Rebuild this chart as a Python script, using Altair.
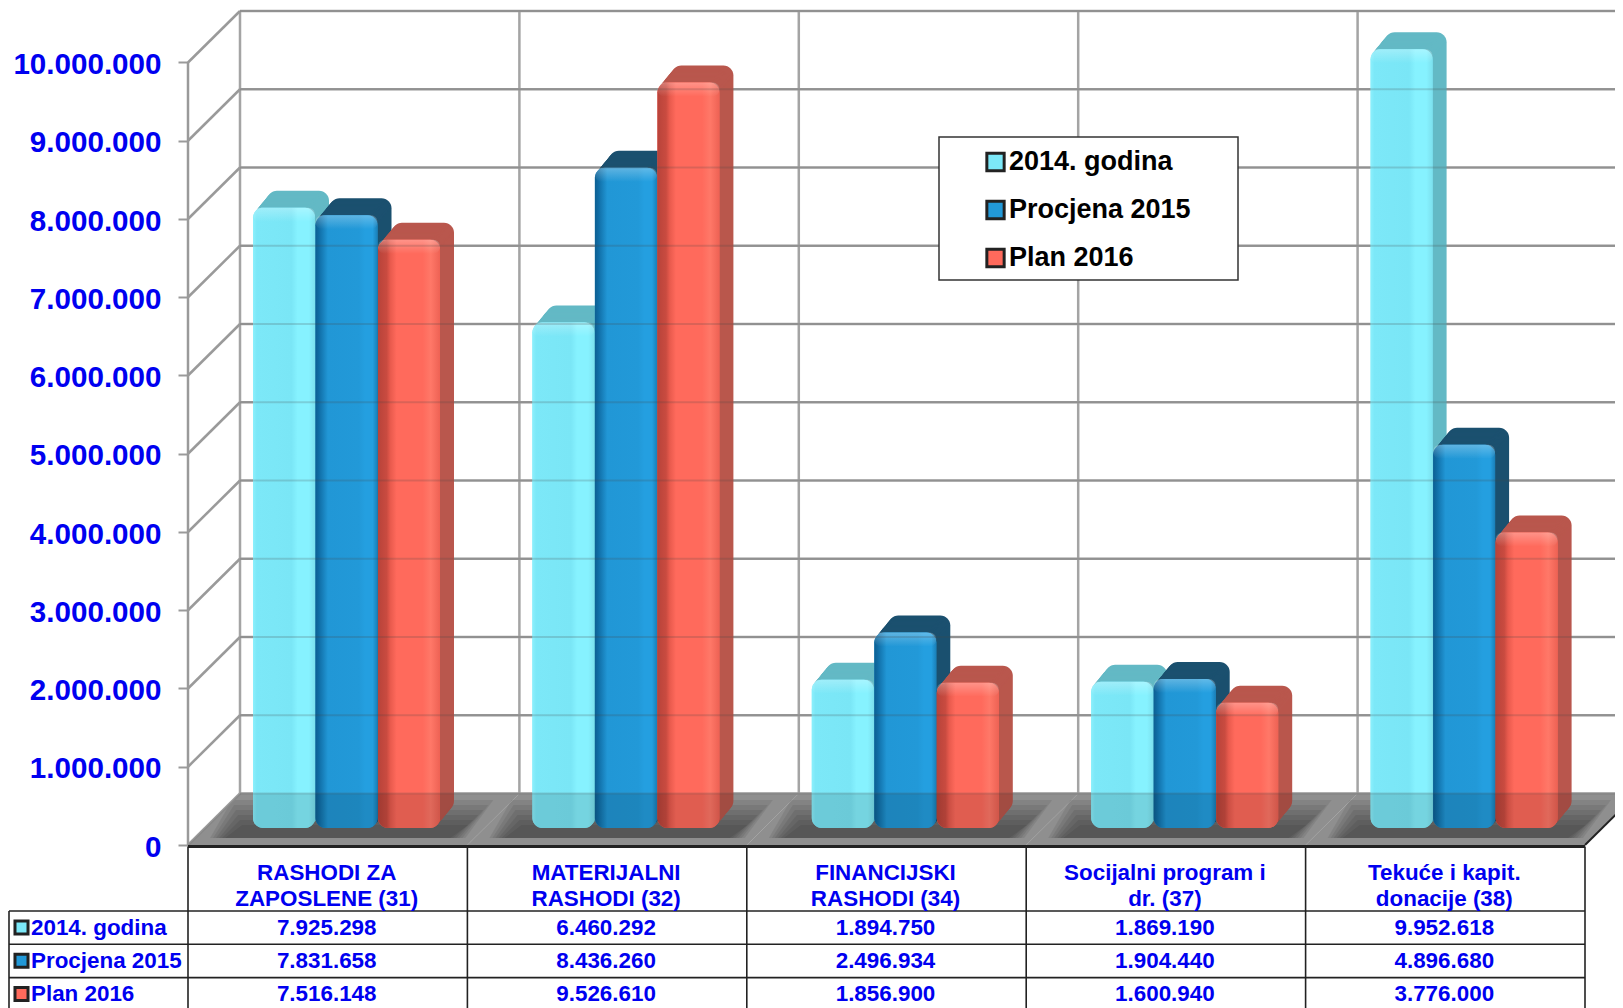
import altair as alt
import pandas as pd

CATEGORIES = ["RASHODI ZA\nZAPOSLENE (31)", "MATERIJALNI\nRASHODI (32)", "FINANCIJSKI\nRASHODI (34)",
              "Socijalni program i\ndr. (37)", "Tekuće i kapit.\ndonacije (38)"]
SERIES = ["2014. godina", "Procjena 2015", "Plan 2016"]
V2014 = [7925298, 6460292, 1894750, 1869190, 9952618]
V2015 = [7831658, 8436260, 2496934, 1904440, 4896680]
V2016 = [7516148, 9526610, 1856900, 1600940, 3776000]
VALUES = [V2014, V2015, V2016]
TICKS = [i * 1000000 for i in range(11)]

COLORS = ["#7ce8f8", "#2299d8", "#ff6a5c"]
SIDES = ["#63b9c5", "#1b506f", "#b9574d"]
STOPS = [
    [("#8cf0fc", 0), ("#7ce8f8", .06), ("#7ae6f6", .62), ("#86f2ff", .72), ("#86f2ff", .9), ("#7ce0ee", 1)],
    [("#0d5f92", 0), ("#0f6ba3", .05), ("#2197d6", .2), ("#2299d8", .7), ("#249fe0", .8), ("#249fe0", .92), ("#1a7fb8", 1)],
    [("#b8433a", 0), ("#c94b40", .14), ("#e85a4d", .2), ("#ff6a5c", .3), ("#ff6a5c", .72), ("#ff7868", .85), ("#ee6254", 1)],
]
BLUE = "#0000f0"
FONT = "Liberation Sans"

W, H = 1607, 1000
X0, COL = 188.0, 279.4
Y0, PER_M = 845.0, 78.25
DEPTH_X, DEPTH_Y = 52.0, 51.5
PAD_LEFT = X0 - 8


def ux(px):
    return (px - X0) / COL


def uy(py):
    return (Y0 - py) / PER_M * 1e6


xs = alt.Scale(domain=[0, ux(8 + W)], zero=False, nice=False)
ys = alt.Scale(domain=[uy(8 + H), uy(8)], zero=False, nice=False)
cs = alt.Scale(domain=SERIES, range=COLORS)

AXIS = alt.Axis(values=TICKS, domain=False, grid=False, ticks=True, tickSize=10,
                tickColor="#9a9a9a", tickWidth=2, labelFont=FONT, labelFontSize=29.6, labelFontWeight="bold",
                labelColor=BLUE, labelPadding=17, labelOffset=2, title=None, labelOverlap=False,
                labelExpr="replace(format(datum.value, ','), /,/g, '.')")


def X(f="x"):
    return alt.X(f"{f}:Q", scale=xs, axis=None, title=None)


def Y(f="y"):
    return alt.Y(f"{f}:Q", scale=ys, axis=AXIS)


def rules(rows, color, width, opacity=1.0):
    return alt.Chart(pd.DataFrame(rows)).mark_rule(color=color, strokeWidth=width, opacity=opacity).encode(
        x=X(), x2="x2:Q", y=Y(), y2="y2:Q")


def lines(rows, color, width):
    return alt.Chart(pd.DataFrame(rows)).mark_line(color=color, strokeWidth=width).encode(
        x=X(), y=Y(), detail="g:N", order="o:Q")


def grad(stops, horizontal=True):
    return alt.LinearGradient(gradient="linear", stops=[alt.GradientStop(color=c, offset=o) for c, o in stops],
                              x1=0, x2=1 if horizontal else 0, y1=0, y2=0 if horizontal else 1)


dxu, dyv = DEPTH_X / COL, DEPTH_Y / PER_M * 1e6


def para(inset_front_l, inset_front_r, inset_back_l, inset_back_r, py_front, py_back):
    rows = []
    for k in range(5):
        rows.append(dict(g=k, y=uy(py_front), x=k + inset_front_l / COL, x2=k + 1 - inset_front_r / COL))
        rows.append(dict(g=k, y=uy(py_back), x=k + inset_back_l / COL, x2=k + 1 - inset_back_r / COL))
    return pd.DataFrame(rows)


def floor(df, fill, **kw):
    return alt.Chart(df).mark_area(orient="horizontal", fill=fill, **kw).encode(
        y=Y(), x=X(), x2="x2:Q", detail="g:N")


layers = []

# floor, with a soft shadow built up towards its front edge
layers.append(floor(para(0, 0, DEPTH_X, -DEPTH_X, Y0, Y0 - DEPTH_Y), "#a3a3a3"))
for n in range(6):
    layers.append(floor(para(22 + 3 * n, 2 + 3 * n, 44 + 2 * n, -26 + 5 * n, 838, 800 + 5 * n),
                        "#000000", opacity=0.075))

# back wall and side wall
wall_h = [dict(x=ux(X0 + DEPTH_X), x2=ux(1660), y=v + dyv, y2=v + dyv) for v in TICKS]
wall_v = [dict(x=k + dxu, x2=k + dxu, y=dyv, y2=TICKS[-1] + dyv) for k in range(6)]
diag = []
for i, v in enumerate(TICKS):
    diag += [dict(g=i, o=0, x=0, y=v), dict(g=i, o=1, x=dxu, y=v + dyv)]
layers.append(rules(wall_h + wall_v, "#a4a4a4", 2.5))
layers.append(rules([dict(x=0, x2=0, y=0, y2=TICKS[-1])], "#9a9a9a", 2.5))
layers.append(lines(diag, "#9a9a9a", 2.5))

# bars
BAR_W = 62.0
BOTTOM = 828.0
base = uy(BOTTOM)
STEPS = 14
EXT_X, EXT_Y = 14.0, 17.0
RADIUS = 10
for j, name in enumerate(SERIES):
    ext, front = [], []
    for i, val in enumerate(VALUES[j]):
        left = i + (65 + 62.5 * j) / COL
        right = left + BAR_W / COL
        front.append(dict(series=name, x=left, x2=right, y=base, y2=val + base))
        for s in range(STEPS, 0, -1):
            ox = EXT_X * s / STEPS / COL
            oy = EXT_Y * s / STEPS / PER_M * 1e6
            ext.append(dict(x=left + ox, x2=right + ox, y=base + oy, y2=val + base + oy))
    layers.append(alt.Chart(pd.DataFrame(ext)).mark_rect(fill=SIDES[j], cornerRadius=RADIUS).encode(
        x=X(), x2="x2:Q", y=Y(), y2="y2:Q"))
    legend = None
    if j == 0:
        legend = alt.Legend(orient="none", legendX=982 - X0, legendY=148.5 - 8, title=None, padding=0,
                            symbolType="square", symbolSize=300, symbolStrokeColor="#222222",
                            symbolStrokeWidth=3, symbolOpacity=1, labelFont=FONT, labelFontSize=27,
                            labelFontWeight="bold", labelColor="#000000", labelOffset=0,
                            clipHeight=27, rowPadding=20, labelLimit=400)
    layers.append(alt.Chart(pd.DataFrame(front)).mark_rect(cornerRadius=RADIUS).encode(
        x=X(), x2="x2:Q", y=Y(), y2="y2:Q",
        color=alt.Color("series:N", scale=cs, legend=legend)))
    layers.append(alt.Chart(pd.DataFrame(front)).mark_rect(cornerRadius=RADIUS, fill=grad(STOPS[j])).encode(
        x=X(), x2="x2:Q", y=Y(), y2="y2:Q"))
    hl = [dict(x=f["x"], x2=f["x2"], y=f["y2"] - 14 / PER_M * 1e6, y2=f["y2"]) for f in front]
    layers.append(alt.Chart(pd.DataFrame(hl)).mark_rect(
        cornerRadius=RADIUS,
        fill=grad([("rgba(255,255,255,0.28)", 0), ("rgba(255,255,255,0)", 1)], False)).encode(
        x=X(), x2="x2:Q", y=Y(), y2="y2:Q"))

# translucent overlays: what the see-through bars let show
layers.append(floor(para(0, 0, DEPTH_X, -DEPTH_X, Y0, Y0 - DEPTH_Y), "#000000", opacity=0.12))
layers.append(rules(wall_h, "#444444", 2, 0.2))
edge = [dict(g=0, o=0, x=5, y=0), dict(g=0, o=1, x=5 + dxu, y=dyv)]
layers.append(lines(edge, "#222222", 2))

# legend box
layers.append(alt.Chart(pd.DataFrame([dict(x=ux(939), x2=ux(1238), y=uy(137), y2=uy(280))])).mark_rect(
    fill="#ffffff", stroke="#333333", strokeWidth=1.5).encode(x=X(), x2="x2:Q", y=Y(), y2="y2:Q"))

# data table
ROW_PY = [911, 944.3, 977.6]
BOT = 1012
tbl = [dict(x=0, x2=5, y=uy(846.5), y2=uy(846.5))]
tbl += [dict(x=ux(9), x2=5, y=uy(p), y2=uy(p)) for p in ROW_PY]
tbl += [dict(x=k, x2=k, y=uy(846.5), y2=uy(BOT)) for k in range(6)]
tbl += [dict(x=ux(9), x2=ux(9), y=uy(911), y2=uy(BOT))]
layers.append(rules(tbl[1:], "#222222", 1.6))
layers.append(rules(tbl[:1], "#222222", 3.2))

head = pd.DataFrame([dict(x=k + .5 - 1 / COL, y=uy(873), t=c) for k, c in enumerate(CATEGORIES)])
layers.append(alt.Chart(head).mark_text(font=FONT, fontSize=22.4, fontWeight="bold", color=BLUE, lineBreak="\n",
                                        lineHeight=26, baseline="middle", align="center").encode(
    x=X(), y=Y(), text="t:N"))
cells, names, swatch = [], [], []
for j, name in enumerate(SERIES):
    py = uy(ROW_PY[j] + 16.5)
    names.append(dict(x=ux(31), y=py, t=name))
    swatch.append(dict(x=ux(21.5), y=py, series=name))
    for i, val in enumerate(VALUES[j]):
        cells.append(dict(x=i + .5 - 1 / COL, y=py, t=f"{val:,}".replace(",", ".")))
layers.append(alt.Chart(pd.DataFrame(cells)).mark_text(font=FONT, fontSize=22.4, fontWeight="bold", color=BLUE,
                                                       baseline="middle", align="center").encode(
    x=X(), y=Y(), text="t:N"))
layers.append(alt.Chart(pd.DataFrame(names)).mark_text(font=FONT, fontSize=22.4, fontWeight="bold", color=BLUE,
                                                       baseline="middle", align="left").encode(
    x=X(), y=Y(), text="t:N"))
layers.append(alt.Chart(pd.DataFrame(swatch)).mark_point(shape="square", size=170, filled=True, opacity=1,
                                                         stroke="#222222", strokeWidth=3).encode(
    x=X(), y=Y(), fill=alt.Fill("series:N", scale=cs, legend=None)))

chart = alt.layer(*layers).properties(
    width=W - PAD_LEFT, height=H,
    padding={"left": PAD_LEFT, "top": 0, "right": 0, "bottom": 0},
    autosize=alt.AutoSizeParams(type="none"), background="#ffffff"
).configure_view(stroke=None)

chart.save("out.html", embed_options={"renderer": "svg", "actions": False})
